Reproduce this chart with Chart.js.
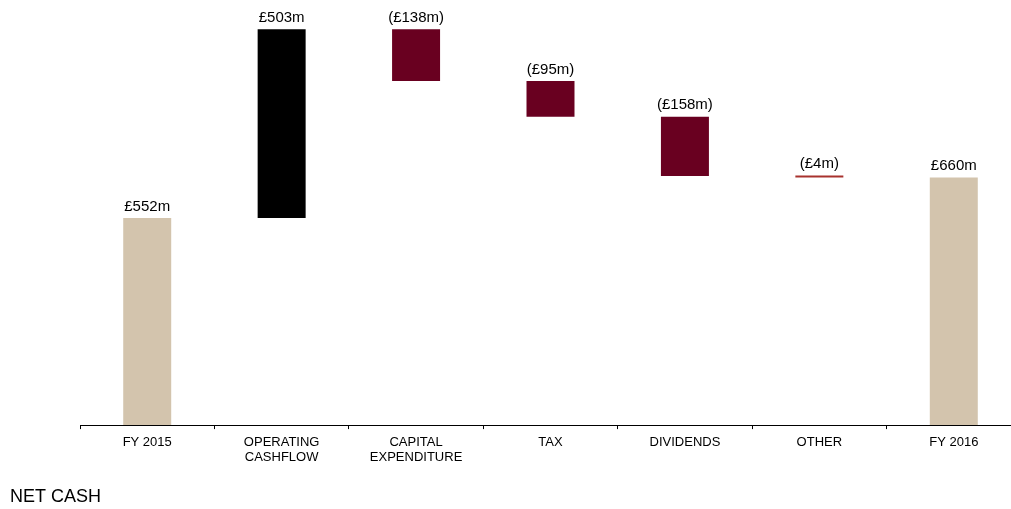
<!DOCTYPE html>
<html>
<head>
<meta charset="utf-8">
<script src="https://cdn.jsdelivr.net/npm/chart.js@4"></script>
<style>
  html, body { margin: 0; padding: 0; background: #fff; overflow: hidden; }
  #wrap { position: relative; width: 1021px; height: 509px; }
</style>
</head>
<body>
<div id="wrap"><canvas id="c"></canvas></div>
<script>
// Net cash bridge, FY 2015 to FY 2016 (£m)
const categories = [
  ['FY 2015'],
  ['OPERATING', 'CASHFLOW'],
  ['CAPITAL', 'EXPENDITURE'],
  ['TAX'],
  ['DIVIDENDS'],
  ['OTHER'],
  ['FY 2016']
];
const movements = [552, 503, -138, -95, -158, -4, 660];
const kinds = ['total', 'up', 'down', 'down', 'down', 'down', 'total'];
const valueLabels = ['£552m', '£503m', '(£138m)', '(£95m)', '(£158m)', '(£4m)', '£660m'];

const colours = { total: '#D3C4AD', up: '#000000', down: '#690020' };
const otherColour = '#A8322E';

// Build floating [low, high] ranges from the running total
const ranges = [];
let running = 0;
movements.forEach((v, i) => {
  if (kinds[i] === 'total') {
    ranges.push([0, v]);
    running = v;
  } else {
    const next = running + v;
    ranges.push([Math.min(running, next), Math.max(running, next)]);
    running = next;
  }
});
const barColours = kinds.map((k, i) => (i === 5 ? otherColour : colours[k]));

const valueLabelPlugin = {
  id: 'valueLabels',
  afterDatasetsDraw(chart) {
    const ctx = chart.ctx;
    const meta = chart.getDatasetMeta(0);
    ctx.save();
    ctx.font = '15px "Liberation Sans", Arial, sans-serif';
    ctx.fillStyle = '#000';
    ctx.textAlign = 'center';
    ctx.textBaseline = 'bottom';
    meta.data.forEach((bar, i) => {
      const top = Math.min(bar.y, bar.base);
      ctx.fillText(valueLabels[i], bar.x, top - 4);
    });
    ctx.restore();
  }
};

const footerPlugin = {
  id: 'footerText',
  afterDraw(chart) {
    const ctx = chart.ctx;
    ctx.save();
    ctx.font = '18px "Liberation Sans", Arial, sans-serif';
    ctx.fillStyle = '#000';
    ctx.textAlign = 'left';
    ctx.textBaseline = 'middle';
    ctx.fillText('NET CASH', 10, 497);
    ctx.restore();
  }
};

new Chart(document.getElementById('c'), {
  type: 'bar',
  data: {
    labels: categories,
    datasets: [{
      data: ranges,
      backgroundColor: barColours,
      borderWidth: 0,
      borderSkipped: false,
      barPercentage: 0.357,
      categoryPercentage: 1.0,
      minBarLength: 2
    }]
  },
  options: {
    responsive: true,
    maintainAspectRatio: false,
    animation: false,
    layout: { padding: { left: 80, right: 0, top: 0, bottom: 38 } },
    plugins: {
      legend: { display: false },
      tooltip: { enabled: false }
    },
    scales: {
      x: {
        offset: true,
        grid: {
          offset: true,
          drawOnChartArea: false,
          drawTicks: true,
          tickLength: 4,
          color: '#000',
          lineWidth: 1
        },
        border: { display: true, color: '#000', width: 1 },
        ticks: {
          color: '#000',
          maxRotation: 0,
          autoSkip: false,
          padding: 6,
          font: { family: '"Liberation Sans", Arial, sans-serif', size: 13, lineHeight: 1.15 }
        }
      },
      y: {
        display: false,
        min: 0,
        max: 1133
      }
    }
  },
  plugins: [valueLabelPlugin, footerPlugin]
});
</script>
</body>
</html>
